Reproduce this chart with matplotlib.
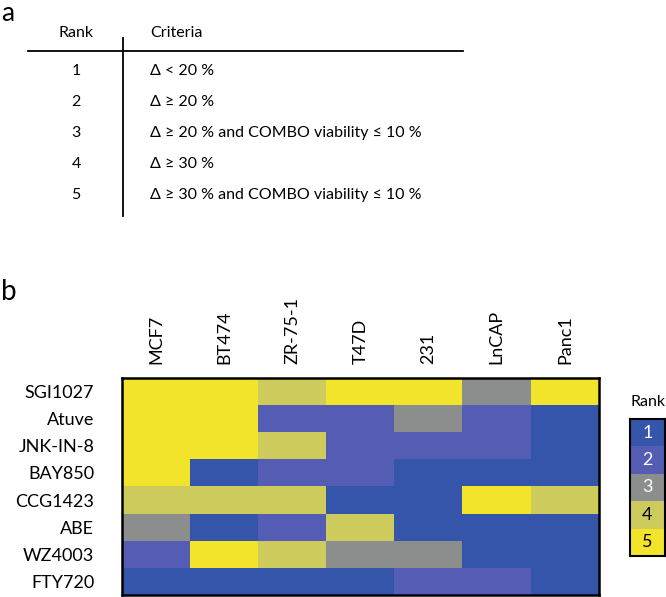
import numpy as np
import matplotlib
matplotlib.use("Agg")
import matplotlib.pyplot as plt
from matplotlib.colors import ListedColormap, BoundaryNorm

plt.rcParams['font.family'] = ['Lato', 'DejaVu Sans']

# table (panel a)
ranks = ["1", "2", "3", "4", "5"]
criteria = ["\u0394 < 20 %",
            "\u0394 \u2265 20 %",
            "\u0394 \u2265 20 % and COMBO viability \u2264 10 %",
            "\u0394 \u2265 30 %",
            "\u0394 \u2265 30 % and COMBO viability \u2264 10 %"]

# heatmap (panel b)
compounds = ["SGI1027", "Atuve", "JNK-IN-8", "BAY850", "CCG1423", "ABE", "WZ4003", "FTY720"]
cell_lines = ["MCF7", "BT474", "ZR-75-1", "T47D", "231", "LnCAP", "Panc1"]
rank_matrix = [
    [5, 5, 4, 5, 5, 3, 5],
    [5, 5, 2, 2, 3, 2, 1],
    [5, 5, 4, 2, 2, 2, 1],
    [5, 1, 2, 2, 1, 1, 1],
    [4, 4, 4, 1, 1, 5, 4],
    [3, 1, 2, 4, 1, 1, 1],
    [2, 5, 4, 3, 3, 1, 1],
    [1, 1, 1, 1, 2, 2, 1],
]
rank_colors = ["#3455aa", "#545db3", "#8c8d8d", "#cdcb5c", "#f2e42a"]
rank_text_colors = ["white", "white", "white", "black", "black"]

W, H = 666, 597
fig = plt.figure(figsize=(W / 100, H / 100), dpi=100)

# overlay axes in pixel coordinates
ax0 = fig.add_axes([0, 0, 1, 1])
ax0.set_xlim(0, W)
ax0.set_ylim(H, 0)
ax0.axis("off")

ax0.text(1, 21, "a", fontsize=19, va="baseline", ha="left")
ax0.text(1, 300, "b", fontsize=20, va="baseline", ha="left")

fs = 11.5
ax0.text(76, 33, "Rank", fontsize=fs, ha="center", va="center")
ax0.text(150, 33, "Criteria", fontsize=fs, ha="left", va="center")
ax0.plot([28, 463], [51, 51], color="black", lw=1.3)
ax0.plot([123, 123], [38, 216], color="black", lw=1.3)
row_y = [71, 102, 133, 164, 195]
for r, c, y in zip(ranks, criteria, row_y):
    ax0.text(76, y, r, fontsize=fs, ha="center", va="center")
    ax0.text(150, y, c, fontsize=fs, ha="left", va="center")

cmap = ListedColormap(rank_colors)
norm = BoundaryNorm(np.arange(0.5, 6.5, 1), cmap.N)

# heatmap
hx0, hx1, hy0, hy1 = 122, 599, 378, 595
ax = fig.add_axes([hx0 / W, 1 - hy1 / H, (hx1 - hx0) / W, (hy1 - hy0) / H])
ax.imshow(np.array(rank_matrix), cmap=cmap, norm=norm, aspect="auto")
ax.set_xticks(range(len(cell_lines)))
ax.set_xticklabels(cell_lines, rotation=90, fontsize=13)
ax.set_yticks(range(len(compounds)))
ax.set_yticklabels(compounds, fontsize=13)
ax.xaxis.tick_top()
ax.tick_params(length=0, pad=10)
ax.tick_params(axis="y", pad=20)
for s in ax.spines.values():
    s.set_linewidth(1.8)

# legend
lx0, lx1, ly0, ly1 = 630, 665, 419, 556
lax = fig.add_axes([lx0 / W, 1 - ly1 / H, (lx1 - lx0) / W, (ly1 - ly0) / H])
lax.imshow(np.arange(1, 6).reshape(-1, 1), cmap=cmap, norm=norm, aspect="auto")
for i, r in enumerate(ranks):
    lax.text(0, i, r, ha="center", va="center", fontsize=13, color=rank_text_colors[i])
lax.set_xticks([])
lax.set_yticks([])
for s in lax.spines.values():
    s.set_linewidth(1.5)
ax0.text(648, 402, "Rank", fontsize=11.5, ha="center", va="center")

fig.savefig("out.png", dpi=100)
